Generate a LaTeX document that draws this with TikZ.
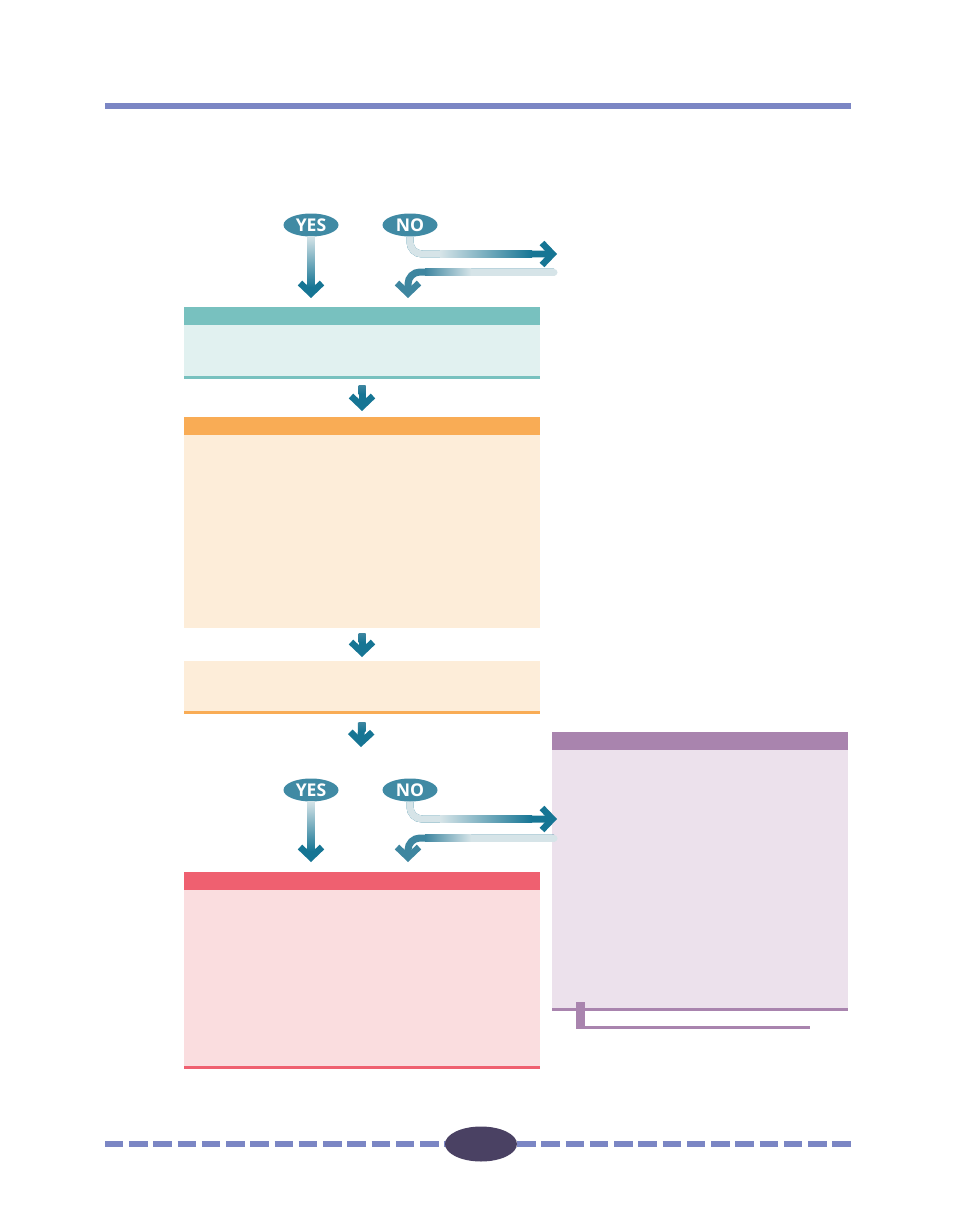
\documentclass[tikz,border=0pt]{standalone}
\usepackage{fontspec}
\setsansfont{Open Sans}
\usetikzlibrary{shapes.geometric,arrows.meta}
\definecolor{rulecol}{RGB}{123,134,196}
\definecolor{pagecol}{RGB}{74,65,99}
\definecolor{flagcol}{RGB}{64,138,164}
\definecolor{arrdark}{RGB}{22,117,148}
\definecolor{arrmid}{RGB}{62,134,160}
\definecolor{arrlight}{RGB}{214,228,232}
\definecolor{tealhd}{RGB}{120,193,191}
\definecolor{tealbg}{RGB}{225,241,240}
\definecolor{orahd}{RGB}{249,172,85}
\definecolor{orabg}{RGB}{253,237,217}
\definecolor{pinkhd}{RGB}{239,96,112}
\definecolor{pinkbg}{RGB}{250,221,223}
\definecolor{purphd}{RGB}{169,132,174}
\definecolor{purpbg}{RGB}{236,225,236}
\tikzset{
  flag/.style={ellipse, fill=flagcol, text=white, inner sep=0pt,
    minimum width=1.1cm, minimum height=0.46cm,
    font=\sffamily\bfseries\fontsize{10}{10}\selectfont},
  stage/.style={minimum width=7.12cm, inner sep=0pt, anchor=north},
  conn/.style={draw=arrdark, line width=0.14cm,
    -{Straight Barb[length=0.21cm, width=0.44cm, line width=0.13cm, sharp, color=arrdark]}},
  back/.style={draw=arrmid, line width=0.14cm,
    -{Straight Barb[length=0.21cm, width=0.44cm, line width=0.13cm, sharp, color=arrmid]}},
}
\begin{document}
\begin{tikzpicture}[x=0.02cm, y=-0.02cm]
  \useasboundingbox (0,0) rectangle (954,1206);
  % top rule
  \fill[rulecol] (105,103) rectangle (851,109);

  % first question
  \node[flag] (yes1) at (311,225) {YES};
  \node[flag] (no1) at (410,225) {NO};
  \coordinate (down1) at (311,298);
  \coordinate (out1) at (557,254);
  \coordinate (back1) at (554,272);
  \coordinate (in1) at (408,298);
  \draw[conn] (yes1) -- (down1);
  \shade[top color=arrlight, bottom color=arrdark] (307.5,236) rectangle (314.5,287);
  \draw[conn, rounded corners=0.24cm] (no1) |- (out1);
  \draw[line width=0.14cm, arrlight, rounded corners=0.24cm] (no1) |- (442,254);
  \shade[left color=arrlight, right color=arrdark] (440,250.5) rectangle (532,257.5);
  \draw[back, rounded corners=0.24cm] (back1) -| (in1);
  \draw[line width=0.14cm, arrlight, line cap=round] (back1) -- (470,272);
  \shade[left color=arrmid, right color=arrlight] (425,268.5) rectangle (471,275.5);

  % boxes
  \node[stage, fill=tealbg, minimum height=1.42cm] (sel) at (362,307) {};
  \fill[tealhd] (sel.north west) rectangle ++(356,18);
  \fill[tealhd] (sel.south west) rectangle ++(356,-3);

  \node[stage, fill=orabg, minimum height=4.22cm] (prep) at (362,417) {};
  \fill[orahd] (prep.north west) rectangle ++(356,18);

  \node[stage, fill=orabg, minimum height=1.04cm] (conf) at (362,661) {};
  \fill[orahd] (conf.south west) rectangle ++(356,-3);

  \coordinate (gate) at (361,747);
  \draw[conn, shorten <=0.14cm, shorten >=0.12cm] (sel) -- (prep);
  \shade[top color=arrmid, bottom color=arrdark] (358.5,385) rectangle (365.5,394);
  \draw[conn, shorten <=0.1cm, shorten >=0.08cm] (prep) -- (conf);
  \shade[top color=arrmid, bottom color=arrdark] (358.5,633) rectangle (365.5,642);
  \draw[conn, shorten <=0.18cm] (conf) -- (gate);
  \shade[top color=arrmid, bottom color=arrdark] (358.5,722) rectangle (365.5,731);

  % side note
  \node[minimum width=5.92cm, minimum height=5.56cm, inner sep=0pt, anchor=north,
    fill=purpbg] (note) at (700,732) {};
  \fill[purphd] (note.north west) rectangle ++(296,18);
  \fill[purphd] (note.south west) rectangle ++(296,-3);
  \fill[purphd] (576,1002) rectangle (585,1029);
  \fill[purphd] (585,1026) rectangle (810,1029);

  % second question
  \node[stage, fill=pinkbg, minimum height=3.92cm] (fix) at (362,872) {};
  \fill[pinkhd] (fix.north west) rectangle ++(356,18);
  \fill[pinkhd] (fix.south west) rectangle ++(356,-3);

  \node[flag] (yes2) at (311,790) {YES};
  \node[flag] (no2) at (410,790) {NO};
  \coordinate (down2) at (311,862);
  \coordinate (out2) at (557,819);
  \coordinate (back2) at (554,838);
  \coordinate (in2) at (408,862);
  \draw[conn] (yes2) -- (down2);
  \shade[top color=arrlight, bottom color=arrdark] (307.5,801) rectangle (314.5,851);
  \draw[conn, rounded corners=0.24cm] (no2) |- (out2);
  \draw[line width=0.14cm, arrlight, rounded corners=0.24cm] (no2) |- (442,819);
  \shade[left color=arrlight, right color=arrdark] (440,815.5) rectangle (532,822.5);
  \draw[back, rounded corners=0.24cm] (back2) -| (in2);
  \draw[line width=0.14cm, arrlight, line cap=round] (back2) -- (470,838);
  \shade[left color=arrmid, right color=arrlight] (425,834.5) rectangle (471,841.5);

  % page footer
  \draw[rulecol, line width=0.12cm, dash pattern=on 0.37cm off 0.115cm] (105,1144) -- (851,1144);
  \node[ellipse, fill=pagecol, minimum width=1.44cm, minimum height=0.7cm, inner sep=0pt] (pg) at (481,1144) {};
\end{tikzpicture}
\end{document}
